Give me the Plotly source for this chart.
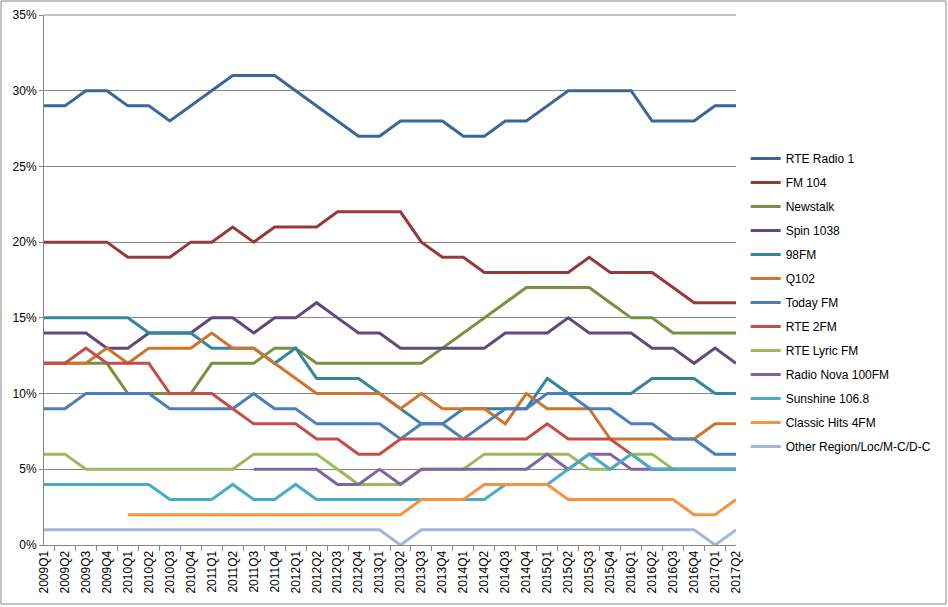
import plotly.graph_objects as go

quarters = [f"{y}Q{q}" for y in range(2009, 2018) for q in range(1, 5)][:34]

series_names = ["RTE Radio 1", "FM 104", "Newstalk", "Spin 1038", "98FM", "Q102",
                "Today FM", "RTE 2FM", "RTE Lyric FM", "Radio Nova 100FM",
                "Sunshine 106.8", "Classic Hits 4FM", "Other Region/Loc/M-C/D-C"]

rte_radio1 = [29,29,30,30,29,29,28,29,30,31,31,31,30,29,28,27,27,28,28,28,27,27,28,28,29,30,30,30,30,28,28,28,29,29]
fm104 = [20,20,20,20,19,19,19,20,20,21,20,21,21,21,22,22,22,22,20,19,19,18,18,18,18,18,19,18,18,18,17,16,16,16]
newstalk = [12,12,12,12,10,10,10,10,12,12,12,13,13,12,12,12,12,12,12,13,14,15,16,17,17,17,17,16,15,15,14,14,14,14]
spin1038 = [14,14,14,13,13,14,14,14,15,15,14,15,15,16,15,14,14,13,13,13,13,13,14,14,14,15,14,14,14,13,13,12,13,12]
fm98 = [15,15,15,15,15,14,14,14,13,13,13,12,13,11,11,11,10,9,8,8,9,9,9,9,11,10,10,10,10,11,11,11,10,10]
q102 = [12,12,12,13,12,13,13,13,14,13,13,12,11,10,10,10,10,9,10,9,9,9,8,10,9,9,9,7,7,7,7,7,8,8]
today_fm = [9,9,10,10,10,10,9,9,9,9,10,9,9,8,8,8,8,7,8,8,7,8,9,9,10,10,9,9,8,8,7,7,6,6]
rte_2fm = [12,12,13,12,12,12,10,10,10,9,8,8,8,7,7,6,6,7,7,7,7,7,7,7,8,7,7,7,6,5,5,5,5,5]
rte_lyric = [6,6,5,5,5,5,5,5,5,5,6,6,6,6,5,4,4,4,5,5,5,6,6,6,6,6,5,5,6,6,5,5,5,5]
radio_nova = [None]*10 + [5,5,5,5,4,4,5,4,5,5,5,5,5,5,6,5,6,6,5,5,5,5,5,5]
sunshine = [4,4,4,4,4,4,3,3,3,4,3,3,4,3,3,3,3,3,3,3,3,3,4,4,4,5,6,5,6,5,5,5,5,5]
classic_hits = [None]*4 + [2]*14 + [3,3,3,4,4,4,4,3,3,3,3,3,3,2,2,3]
other = [1]*17 + [0] + [1]*14 + [0] + [1]

all_values = [rte_radio1, fm104, newstalk, spin1038, fm98, q102, today_fm, rte_2fm,
              rte_lyric, radio_nova, sunshine, classic_hits, other]

colors = ["#3A6698", "#953A38", "#77923F", "#5F4A7C", "#33869B", "#D0732C",
          "#4A7EBF", "#C24E4B", "#9ABB57", "#7F64A3", "#4AACC7", "#F7923F", "#A2B6D9"]

fig = go.Figure()
for i, (name, vals, col) in enumerate(zip(series_names, all_values, colors)):
    fig.add_trace(go.Scatter(
        x=quarters,
        y=[None if v is None else v / 100 for v in vals],
        mode="lines",
        name=name,
        legendgroup=f"g{i}",
        line=dict(color=col, width=3),
        connectgaps=False,
    ))

axis_color = "#868686"
fig.update_layout(
    width=948, height=607,
    margin=dict(l=44, r=212, t=15, b=62, autoexpand=False),
    paper_bgcolor="white",
    plot_bgcolor="white",
    font=dict(family="Liberation Sans, Arial, sans-serif", size=12, color="#000000"),
    showlegend=True,
    legend=dict(
        x=1.014, xanchor="left",
        y=0.7568, yanchor="top",
        tracegroupgap=5,
        font=dict(size=12, color="#000000"),
        bgcolor="rgba(0,0,0,0)",
    ),
    xaxis=dict(
        type="category",
        automargin=False,
        tickangle=-90,
        showgrid=False,
        showline=True,
        linecolor=axis_color,
        linewidth=1,
        ticks="outside",
        tickson="boundaries",
        ticklen=5,
        tickcolor=axis_color,
        tickfont=dict(size=12),
    ),
    yaxis=dict(
        automargin=False,
        range=[0, 0.35],
        dtick=0.05,
        tick0=0,
        tickformat=".0%",
        showgrid=True,
        gridcolor=axis_color,
        gridwidth=1,
        showline=True,
        linecolor=axis_color,
        linewidth=1,
        ticks="outside",
        ticklen=4,
        tickcolor=axis_color,
        zeroline=False,
        tickfont=dict(size=12),
    ),
    shapes=[
        dict(
            type="rect", xref="paper", yref="paper",
            x0=(1 - 44) / 692, x1=(946 - 44) / 692,
            y0=(545 - 604) / 530, y1=(545 - 1) / 530,
            line=dict(color=axis_color, width=1),
            fillcolor="rgba(0,0,0,0)",
            layer="below",
        ),
        dict(
            type="line", xref="paper", yref="paper",
            x0=0, x1=1, y0=1, y1=1,
            line=dict(color=axis_color, width=1),
            layer="below",
        ),
    ],
)

fig.write_html("out.html")
